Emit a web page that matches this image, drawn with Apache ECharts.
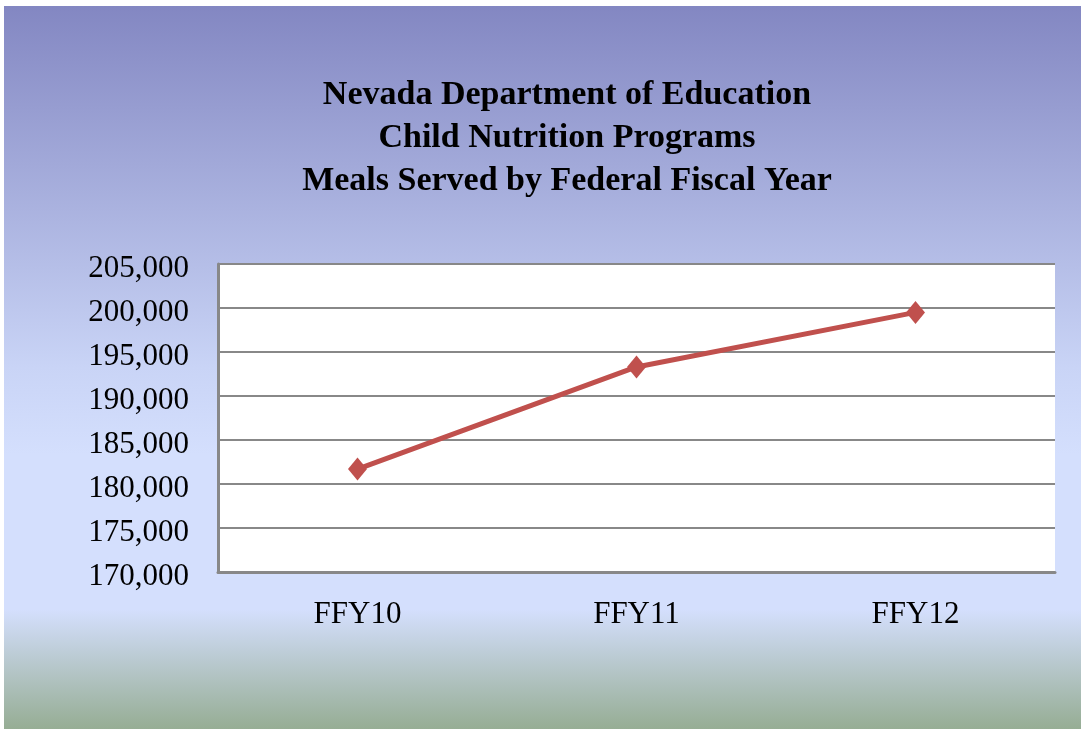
<!DOCTYPE html>
<html>
<head>
<meta charset="utf-8">
<script src="https://cdn.jsdelivr.net/npm/echarts@6/dist/echarts.min.js"></script>
<style>
  html, body { margin: 0; padding: 0; background: #fff; }
  #chart { position: absolute; left: 4px; top: 6px; width: 1077px; height: 723px; }
</style>
</head>
<body>
<div id="chart"></div>
<script>
// categories and values
const years = ['FFY10', 'FFY11', 'FFY12'];
const meals = [181700, 193300, 199500];
const titleLines = ['Nevada Department of Education', 'Child Nutrition Programs', 'Meals Served by Federal Fiscal Year'];

const chart = echarts.init(document.getElementById('chart'));

const serif = '"Liberation Serif", "Times New Roman", serif';

const option = {
  backgroundColor: {
    type: 'linear', x: 0, y: 0, x2: 0, y2: 1,
    colorStops: [
      { offset: 0, color: '#8387c2' },
      { offset: 0.5, color: '#c9d4f6' },
      { offset: 0.62, color: '#d4dffd' },
      { offset: 0.835, color: '#d4dffd' },
      { offset: 1, color: '#96ad94' }
    ]
  },
  title: {
    text: titleLines.join('\n'),
    left: 563,
    top: 68,
    textAlign: 'center',
    padding: 0,
    textStyle: {
      fontFamily: serif,
      fontSize: 34,
      fontWeight: 'bold',
      color: '#000',
      lineHeight: 43
    }
  },
  grid: {
    left: 214,
    right: 26,
    top: 258,
    bottom: 157,
    show: true,
    backgroundColor: '#fff',
    borderWidth: 0
  },
  xAxis: {
    type: 'category',
    data: years,
    boundaryGap: true,
    axisLine: { show: true, lineStyle: { color: '#888', width: 3 } },
    axisTick: { show: false },
    axisLabel: {
      fontFamily: serif,
      fontSize: 31,
      color: '#000',
      margin: 27
    }
  },
  yAxis: {
    type: 'value',
    min: 170000,
    max: 205000,
    interval: 5000,
    axisLine: { show: true, lineStyle: { color: '#888', width: 3 } },
    axisTick: { show: false },
    splitLine: { show: true, lineStyle: { color: '#888', width: 2 } },
    axisLabel: {
      color: '#000',
      margin: 29,
      formatter: v => '{n|' + v.toLocaleString('en-US') + '}',
      rich: {
        n: {
          fontFamily: serif,
          fontSize: 31,
          color: '#000',
          padding: [10, 0, 0, 0]
        }
      }
    }
  },
  series: [
    {
      type: 'line',
      data: meals,
      symbol: 'diamond',
      symbolSize: [19, 23],
      lineStyle: { color: '#c0504d', width: 5 },
      itemStyle: { color: '#c0504d' },
      animation: false
    }
  ]
};

chart.setOption(option);
</script>
</body>
</html>
